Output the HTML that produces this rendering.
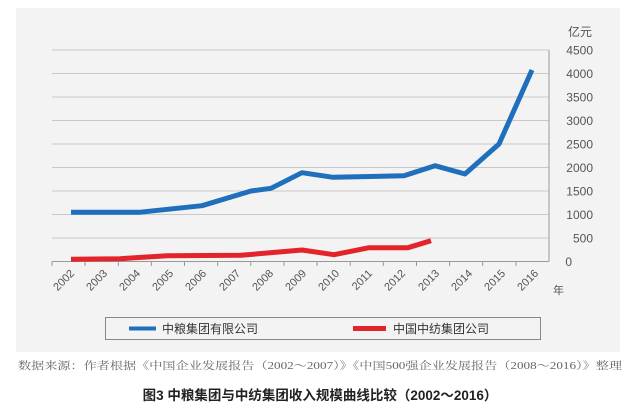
<!DOCTYPE html>
<html><head><meta charset="utf-8"><style>
html,body{margin:0;padding:0;background:#fff;}
body{width:640px;height:419px;position:relative;overflow:hidden;font-family:"Liberation Sans","Noto Sans CJK SC",sans-serif;}
</style></head><body>
<svg width="640" height="419" viewBox="0 0 640 419" xmlns="http://www.w3.org/2000/svg" style="position:absolute;left:0;top:0">
<rect x="16" y="8" width="604" height="344" fill="#f3f3f3"/>
<g stroke="#c8c8c8" stroke-width="1">
<line x1="52" y1="50" x2="549" y2="50"/><line x1="52" y1="73.5" x2="549" y2="73.5"/>
<line x1="52" y1="97" x2="549" y2="97"/><line x1="52" y1="120.5" x2="549" y2="120.5"/>
<line x1="52" y1="144" x2="549" y2="144"/><line x1="52" y1="167.5" x2="549" y2="167.5"/>
<line x1="52" y1="191" x2="549" y2="191"/><line x1="52" y1="214.5" x2="549" y2="214.5"/>
<line x1="52" y1="238" x2="549" y2="238"/>
</g>
<line x1="52" y1="261.5" x2="549" y2="261.5" stroke="#999" stroke-width="1"/>
<line x1="549" y1="50" x2="549" y2="261.5" stroke="#999" stroke-width="1"/>
<g stroke="#999" stroke-width="1">
<line x1="52" y1="261.5" x2="52" y2="266"/><line x1="85.1" y1="261.5" x2="85.1" y2="266"/><line x1="118.3" y1="261.5" x2="118.3" y2="266"/><line x1="151.4" y1="261.5" x2="151.4" y2="266"/><line x1="184.5" y1="261.5" x2="184.5" y2="266"/><line x1="217.7" y1="261.5" x2="217.7" y2="266"/><line x1="250.8" y1="261.5" x2="250.8" y2="266"/><line x1="283.9" y1="261.5" x2="283.9" y2="266"/><line x1="317.1" y1="261.5" x2="317.1" y2="266"/><line x1="350.2" y1="261.5" x2="350.2" y2="266"/><line x1="383.3" y1="261.5" x2="383.3" y2="266"/><line x1="416.5" y1="261.5" x2="416.5" y2="266"/><line x1="449.6" y1="261.5" x2="449.6" y2="266"/><line x1="482.7" y1="261.5" x2="482.7" y2="266"/><line x1="515.9" y1="261.5" x2="515.9" y2="266"/>
</g>
<g font-size="12" fill="#555" text-anchor="end">
<text x="593" y="54.5">4500</text><text x="593" y="78">4000</text><text x="593" y="101.5">3500</text><text x="593" y="125">3000</text><text x="593" y="148.5">2500</text><text x="593" y="172">2000</text><text x="593" y="195.5">1500</text><text x="593" y="219">1000</text><text x="593" y="242.5">500</text><text x="572" y="266">0</text>
</g>
<text x="568" y="36" font-size="12" fill="#555">亿元</text>
<text x="553" y="294" font-size="11" fill="#555">年</text>
<g font-size="11" fill="#555" text-anchor="end">
<text transform="translate(75,274) rotate(-45)">2002</text>
<text transform="translate(108,274) rotate(-45)">2003</text>
<text transform="translate(141,274) rotate(-45)">2004</text>
<text transform="translate(174,274) rotate(-45)">2005</text>
<text transform="translate(207,274) rotate(-45)">2006</text>
<text transform="translate(241,274) rotate(-45)">2007</text>
<text transform="translate(274,274) rotate(-45)">2008</text>
<text transform="translate(307,274) rotate(-45)">2009</text>
<text transform="translate(340,274) rotate(-45)">2010</text>
<text transform="translate(373,274) rotate(-45)">2011</text>
<text transform="translate(406,274) rotate(-45)">2012</text>
<text transform="translate(440,274) rotate(-45)">2013</text>
<text transform="translate(473,274) rotate(-45)">2014</text>
<text transform="translate(506,274) rotate(-45)">2015</text>
<text transform="translate(539,274) rotate(-45)">2016</text>
</g>
<polyline fill="none" stroke="#1f6fbd" stroke-width="5" stroke-linejoin="round" points="71,212.3 139,212.3 202,205.7 251,191 271,188.3 302,172.7 333,177.3 404,175.7 435,165.7 465,174 499,144 532,70"/>
<polyline fill="none" stroke="#e3242b" stroke-width="5" stroke-linejoin="round" points="71,259.3 120,258.7 167,255.7 241,255.3 302,250 334,254.7 369,247.7 408,247.7 431,240.7"/>
<rect x="105.5" y="317.5" width="435" height="22" fill="#f3f3f3" stroke="#888" stroke-width="1"/>
<line x1="129" y1="328.5" x2="156" y2="328.5" stroke="#1f6fbd" stroke-width="4"/>
<text x="162" y="333" font-size="12" fill="#333">中粮集团有限公司</text>
<line x1="353" y1="328.5" x2="386" y2="328.5" stroke="#e3242b" stroke-width="5"/>
<text x="393" y="333" font-size="12" fill="#333">中国中纺集团公司</text>
<text x="18" y="369" font-size="10.5" fill="#666" textLength="604" lengthAdjust="spacingAndGlyphs" font-family="'Liberation Serif','Noto Serif CJK SC',serif">数据来源：作者根据《中国企业发展报告（2002～2007）》《中国500强企业发展报告（2008～2016）》整理</text>
<text x="320" y="400" font-size="13.5" fill="#222" font-weight="bold" text-anchor="middle">图3 中粮集团与中纺集团收入规模曲线比较（2002～2016）</text>
</svg>
</body></html>
